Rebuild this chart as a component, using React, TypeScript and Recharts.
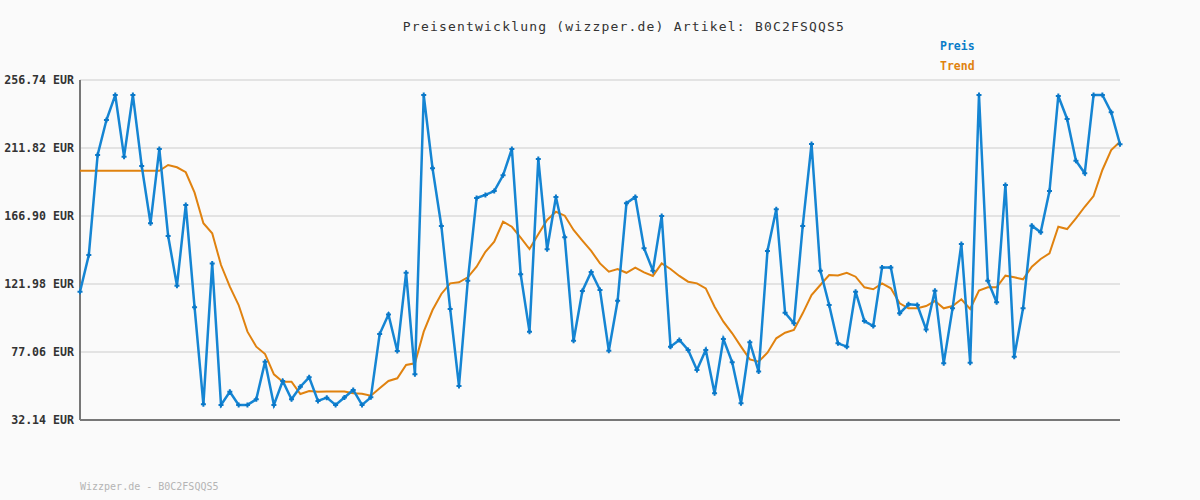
import { LineChart, Line, XAxis, YAxis, CartesianGrid, ReferenceLine } from 'recharts';

// price history (EUR), one value per sample
const preis = [
  116.9, 141.1, 207.2, 230.3, 246.8, 206.1, 246.8, 200.0, 162.1, 211.2,
  153.7, 120.9, 174.2, 106.6, 42.5, 135.6, 42.1, 50.8, 42.1, 42.1,
  45.8, 70.7, 42.1, 57.9, 45.8, 54.1, 60.3, 44.7, 46.9, 42.1,
  47.0, 52.0, 42.1, 47.1, 88.9, 101.8, 77.7, 129.4, 62.3, 246.8,
  198.4, 160.3, 105.5, 54.6, 124.2, 178.8, 180.8, 183.4, 193.8, 211.2,
  128.4, 90.5, 204.6, 144.9, 179.5, 152.8, 84.5, 117.4, 129.9, 118.0,
  77.9, 110.9, 175.3, 179.5, 145.6, 130.8, 166.9, 80.6, 85.0, 78.4,
  65.2, 78.4, 49.8, 85.6, 70.3, 43.2, 83.5, 64.1, 143.8, 171.3,
  103.0, 96.0, 160.3, 214.5, 130.8, 108.1, 82.8, 80.6, 116.9, 97.5,
  94.2, 132.8, 132.8, 102.6, 108.6, 108.1, 92.0, 117.6, 69.6, 105.9,
  148.4, 70.0, 246.8, 124.2, 109.9, 187.4, 74.0, 105.9, 160.5, 156.1,
  183.4, 246.2, 231.0, 203.4, 195.1, 246.8, 246.8, 235.4, 214.3,
];

const trend = [
  196.8, 196.8, 196.8, 196.8, 196.8, 196.8, 196.8, 196.8, 196.8, 196.8,
  200.6, 199.1, 195.8, 182.3, 162.1, 155.5, 134.5, 120.2, 108.1, 90.5,
  80.6, 75.7, 62.3, 57.4, 57.4, 49.3, 51.3, 50.8, 51.0, 51.0,
  51.0, 49.8, 49.5, 48.2, 53.1, 57.9, 59.7, 68.5, 69.6, 90.5,
  104.8, 115.4, 122.4, 123.1, 126.4, 133.4, 143.3, 149.9, 163.1, 159.8,
  152.6, 145.1, 154.8, 164.3, 169.7, 167.1, 157.7, 150.6, 143.8, 135.6,
  130.1, 131.9, 129.4, 132.8, 129.7, 127.3, 135.6, 131.9, 127.3, 123.5,
  122.4, 119.1, 107.0, 97.1, 89.4, 80.6, 72.2, 70.7, 76.6, 86.1,
  89.8, 91.6, 102.6, 114.7, 121.3, 127.9, 127.6, 129.4, 126.8, 119.8,
  118.5, 122.4, 119.1, 109.2, 105.9, 105.9, 107.4, 110.7, 105.9, 107.4,
  111.9, 105.5, 117.6, 119.8, 119.8, 127.5, 126.4, 125.1, 133.4, 138.5,
  142.2, 159.8, 158.3, 165.3, 173.0, 180.1, 197.3, 210.5, 216.0,
];

const yTicks = [32.14, 77.06, 121.98, 166.9, 211.82, 256.74];

const data = preis.map((p, i) => ({ i, preis: p, trend: trend[i] }));

const MONO = '"DejaVu Sans Mono", "Liberation Mono", monospace';

const PlusDot = (props: any) => {
  const { cx, cy } = props;
  if (cx == null || cy == null) return null;
  return (
    <path
      d={`M${cx - 2.5},${cy} L${cx + 2.5},${cy} M${cx},${cy - 2.5} L${cx},${cy + 2.5}`}
      stroke="#0a78c8"
      strokeWidth={2}
    />
  );
};

const YTick = (props: any) => {
  const { x, y, payload } = props;
  return (
    <text
      x={x + 2}
      y={y}
      dy={4}
      textAnchor="end"
      fill="#333"
      fontSize={11.6}
      fontWeight="bold"
      fontFamily={MONO}
    >
      {`${Number(payload.value).toFixed(2)} EUR`}
    </text>
  );
};

export default function App() {
  return (
    <div
      style={{
        position: 'fixed',
        left: 0,
        top: 0,
        width: 1200,
        height: 500,
        background: '#fafafa',
        fontFamily: MONO,
      }}
    >
      <div
        style={{
          position: 'absolute',
          top: 19,
          left: 0,
          width: 1248,
          textAlign: 'center',
          fontSize: 13,
          letterSpacing: 1.2,
          color: '#333',
        }}
      >
        Preisentwicklung (wizzper.de) Artikel: B0C2FSQQS5
      </div>
      <div style={{ position: 'absolute', left: 940, top: 39, fontSize: 11.5, fontWeight: 'bold', color: '#0a7cc8' }}>
        Preis
      </div>
      <div style={{ position: 'absolute', left: 940, top: 59, fontSize: 11.5, fontWeight: 'bold', color: '#e0820f' }}>
        Trend
      </div>
      <div style={{ position: 'absolute', left: 80, top: 481, fontSize: 10, color: '#b4b4b4' }}>
        Wizzper.de - B0C2FSQQS5
      </div>

      <LineChart width={1200} height={500} data={data} margin={{ top: 80, right: 80, bottom: 80, left: 0 }}>
        <CartesianGrid horizontal vertical={false} stroke="#e3e3e3" strokeWidth={2} />
        <XAxis
          dataKey="i"
          type="number"
          domain={[0, preis.length - 1]}
          hide
        />
        <YAxis
          domain={[yTicks[0], yTicks[yTicks.length - 1]]}
          ticks={yTicks}
          width={80}
          tickLine={false}
          axisLine={false}
          tick={<YTick />}
        />
        <ReferenceLine x={0} stroke="#777" strokeWidth={2} />
        <ReferenceLine y={yTicks[0]} stroke="#777" strokeWidth={2} />
        <Line
          type="linear"
          dataKey="trend"
          stroke="#e0820f"
          strokeWidth={2}
          dot={false}
          isAnimationActive={false}
        />
        <Line
          type="linear"
          dataKey="preis"
          stroke="#1585d3"
          strokeWidth={2.5}
          dot={<PlusDot />}
          activeDot={false}
          isAnimationActive={false}
        />
      </LineChart>
    </div>
  );
}
